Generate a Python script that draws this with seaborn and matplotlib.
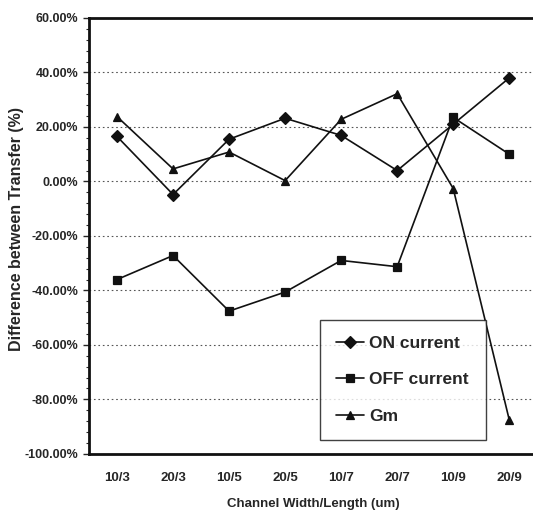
import numpy as np
import pandas as pd
import matplotlib
matplotlib.use('Agg')
import matplotlib.pyplot as plt
import seaborn as sns
from matplotlib.ticker import FuncFormatter, MultipleLocator

sizes = ['10/3', '20/3', '10/5', '20/5', '10/7', '20/7', '10/9', '20/9']
on_current = [16.5, -4.8, 15.5, 23.2, 16.9, 4.0, 21.0, 38.0]
off_current = [-36.0, -27.2, -47.6, -40.6, -29.0, -31.3, 23.5, 10.0]
gm = [23.8, 4.6, 10.8, 0.3, 22.8, 32.2, -2.6, -87.5]
series_names = ['ON current', 'OFF current', 'Gm']

df = pd.DataFrame({
    'size': sizes * 3,
    'diff': on_current + off_current + gm,
    'series': [s for s in series_names for _ in sizes],
})

sns.set_style('white')
plt.rcParams['font.family'] = ['Liberation Sans', 'DejaVu Sans']
plt.rcParams['font.weight'] = 'bold'

fig = plt.figure(figsize=(5.33, 5.14), dpi=100)
ax = fig.add_axes([0.167, 0.117, 0.841, 0.848])

sns.pointplot(data=df, x='size', y='diff', hue='series', hue_order=series_names,
              markers=['D', 's', '^'], linestyles='-', palette=['#111111'] * 3,
              errorbar=None, dodge=False, markersize=6, linewidth=1.2, ax=ax)

ax.set_xlim(-0.5, 7.5)
ax.set_ylim(-100, 60)
ax.yaxis.set_major_locator(MultipleLocator(20))
ax.yaxis.set_minor_locator(MultipleLocator(4))
ax.yaxis.set_major_formatter(FuncFormatter(lambda v, p: f'{v:.2f}%'))
ax.grid(axis='y', which='major', linestyle=(0, (1.5, 2.5)), color='#555555', linewidth=0.8)
ax.tick_params(axis='y', which='major', length=4, width=1, labelsize=9, left=True)
ax.tick_params(axis='y', which='minor', length=2, width=0.8, left=True)
ax.tick_params(axis='x', length=0, pad=13, labelsize=9.5)
for lab in ax.get_xticklabels() + ax.get_yticklabels():
    lab.set_fontweight('bold')

for side in ['left', 'bottom', 'top']:
    ax.spines[side].set_color('#111111')
    ax.spines[side].set_linewidth(2)
ax.spines['right'].set_visible(False)

ax.set_xlabel('Channel Width/Length (um)', fontsize=9.5, fontweight='bold', labelpad=10)
ax.set_ylabel('Difference between Transfer (%)', fontsize=11.5, fontweight='bold')
ax.yaxis.set_label_coords(-0.144, 0.516)

handles, labels = ax.get_legend_handles_labels()
leg = ax.legend(handles, labels, loc='lower left', bbox_to_anchor=(0.516, 0.032, 0.37, 0.278),
                mode='expand', borderaxespad=0, frameon=True, fancybox=False, edgecolor='#111111',
                handlelength=1.6, handletextpad=0.3, labelspacing=1.25, borderpad=0.9,
                prop={'weight': 'bold', 'size': 12.5})
leg.get_frame().set_linewidth(1.0)

fig.savefig('out.png', dpi=100)
